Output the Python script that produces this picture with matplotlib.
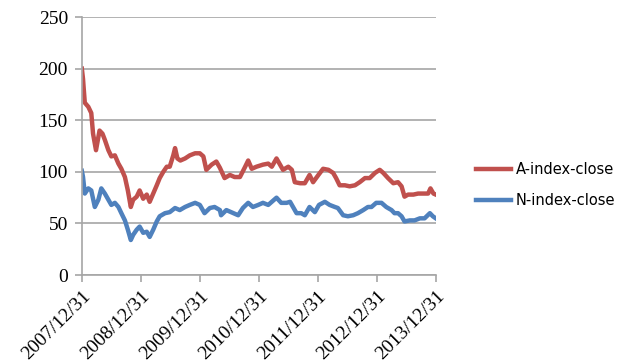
import numpy as np
import pandas as pd
import matplotlib
matplotlib.use('Agg')
import matplotlib.pyplot as plt
import matplotlib.dates as mdates

# Closing levels, sampled along the period; time given in years after 2007/12/31
a_years = [0.00, 0.02, 0.03, 0.05, 0.11, 0.16, 0.19, 0.24, 0.30, 0.35, 0.39, 0.45,
           0.50, 0.56, 0.62, 0.67, 0.73, 0.78, 0.83, 0.87, 0.93, 0.98, 1.04, 1.10,
           1.15, 1.21, 1.27, 1.32, 1.38, 1.44, 1.49, 1.55, 1.58, 1.62, 1.67, 1.75,
           1.83, 1.92, 2.00, 2.06, 2.11, 2.20, 2.28, 2.34, 2.42, 2.51, 2.59, 2.68,
           2.76, 2.82, 2.88, 2.96, 3.07, 3.16, 3.22, 3.30, 3.36, 3.41, 3.50, 3.56,
           3.61, 3.70, 3.78, 3.86, 3.92, 4.01, 4.09, 4.18, 4.26, 4.31, 4.37, 4.46,
           4.54, 4.63, 4.71, 4.80, 4.88, 4.97, 5.05, 5.11, 5.19, 5.28, 5.36, 5.42,
           5.47, 5.53, 5.62, 5.70, 5.79, 5.87, 5.91, 5.96, 6.00]
a_close = [200, 190, 182, 167, 163, 157, 137, 121, 140, 137, 131, 121,
           115, 116, 108, 103, 95, 82, 66, 73, 76, 82, 74, 78,
           71, 79, 87, 94, 100, 105, 105, 116, 123, 113, 111, 113,
           116, 118, 118, 115, 102, 107, 110, 104, 94, 97, 95, 95,
           104, 111, 103, 105, 107, 108, 105, 113, 107, 102, 105, 102,
           90, 89, 89, 97, 90, 97, 103, 102, 99, 94, 87, 87,
           86, 87, 90, 94, 94, 99, 102, 99, 94, 89, 90, 86,
           76, 78, 78, 79, 79, 79, 84, 79, 78]

n_years = [0.00, 0.02, 0.05, 0.11, 0.16, 0.22, 0.28, 0.33, 0.39, 0.45, 0.50, 0.56,
           0.62, 0.67, 0.73, 0.78, 0.83, 0.87, 0.93, 0.98, 1.04, 1.10, 1.15, 1.21,
           1.27, 1.32, 1.41, 1.49, 1.58, 1.66, 1.75, 1.83, 1.92, 2.00, 2.08, 2.17,
           2.25, 2.34, 2.36, 2.45, 2.53, 2.65, 2.73, 2.82, 2.90, 2.99, 3.07, 3.16,
           3.22, 3.30, 3.38, 3.47, 3.53, 3.58, 3.64, 3.72, 3.78, 3.86, 3.95, 4.02,
           4.12, 4.20, 4.29, 4.34, 4.43, 4.51, 4.60, 4.68, 4.77, 4.85, 4.91, 4.99,
           5.08, 5.16, 5.25, 5.30, 5.36, 5.42, 5.47, 5.56, 5.64, 5.73, 5.81, 5.90,
           5.95, 6.00]
n_close = [101, 95, 79, 84, 82, 66, 73, 84, 79, 73, 68, 70,
           66, 60, 53, 44, 34, 39, 44, 47, 41, 42, 37, 44,
           52, 57, 60, 61, 65, 63, 66, 68, 70, 68, 60, 65,
           66, 63, 58, 63, 61, 58, 65, 70, 66, 68, 70, 68,
           71, 75, 70, 70, 71, 66, 60, 60, 58, 66, 61, 68,
           71, 68, 66, 65, 58, 57, 58, 60, 63, 66, 66, 70,
           70, 66, 63, 60, 60, 57, 52, 53, 53, 55, 55, 60,
           57, 55]

y_ticks = [0, 50, 100, 150, 200, 250]

start = pd.Timestamp('2007-12-31')
tick_dates = [pd.Timestamp(f'{y}-12-31') for y in range(2007, 2014)]


def to_dates(years):
    return start + pd.to_timedelta(np.array(years) * 365.25, unit='D')


red = '#C0504D'
blue = '#4F81BD'
grid_c = '#A6A6A6'

fig = plt.figure(figsize=(6.2, 3.62), dpi=100)
ax = fig.add_axes([0.132, 0.240, 0.571, 0.713])

ax.plot(to_dates(a_years), a_close, color=red, linewidth=3.2, label='A-index-close',
        solid_joinstyle='round')
ax.plot(to_dates(n_years), n_close, color=blue, linewidth=3.2, label='N-index-close',
        solid_joinstyle='round')

ax.set_ylim(0, 250)
ax.set_yticks(y_ticks)
ax.set_xlim(tick_dates[0], tick_dates[-1])
ax.set_xticks(tick_dates)
ax.xaxis.set_major_formatter(mdates.DateFormatter('%Y/%m/%d'))

ax.grid(True, axis='y', color=grid_c, linewidth=1.2)
ax.set_axisbelow(True)
for s in ['top', 'right']:
    ax.spines[s].set_visible(False)
for s in ['left', 'bottom']:
    ax.spines[s].set_color(grid_c)
    ax.spines[s].set_linewidth(1.2)

ax.tick_params(axis='both', colors=grid_c, length=5, width=1.2, direction='out')
ax.tick_params(axis='y', pad=5)
ax.tick_params(axis='x', pad=4)
for lab in ax.get_yticklabels():
    lab.set_fontfamily('Liberation Serif')
    lab.set_fontsize(14)
    lab.set_color('black')
for lab in ax.get_xticklabels():
    lab.set_fontfamily('Liberation Serif')
    lab.set_fontsize(14)
    lab.set_color('black')
    lab.set_rotation(45)
    lab.set_ha('right')
    lab.set_rotation_mode('anchor')

fig.legend(loc='center left', bbox_to_anchor=(0.768, 0.488), frameon=False,
           prop={'family': 'DejaVu Sans', 'size': 10.5}, handlelength=2.4,
           handletextpad=0.3, labelspacing=1.1, borderpad=0, borderaxespad=0)

fig.savefig('out.png', dpi=100)
